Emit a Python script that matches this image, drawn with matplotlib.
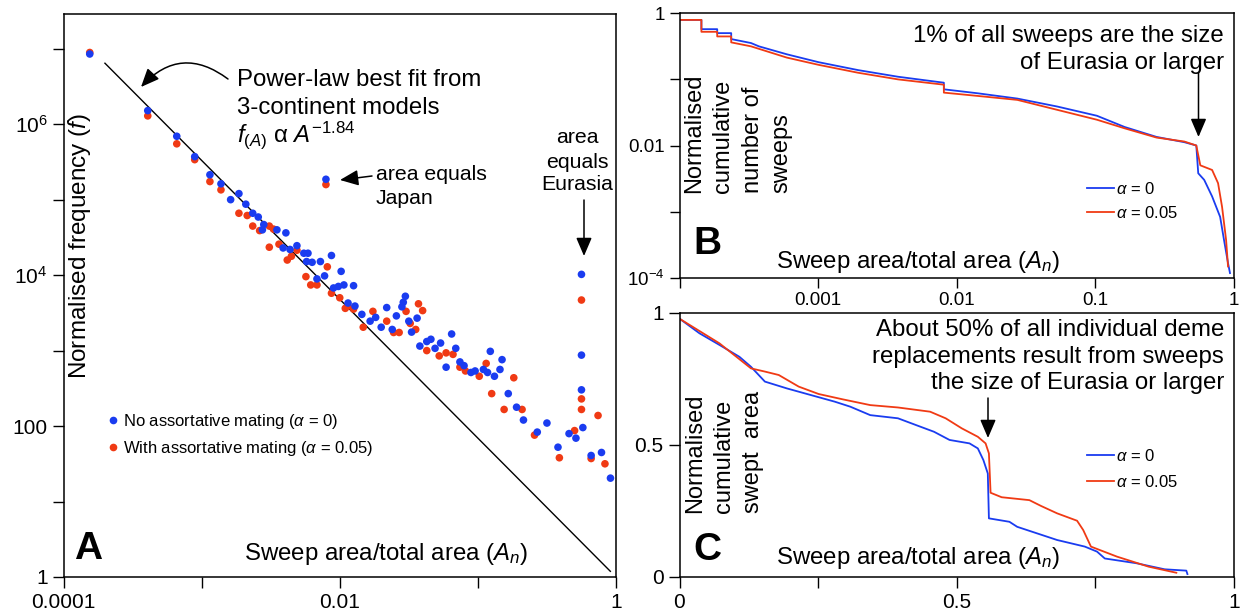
import numpy as np
import matplotlib
matplotlib.use('Agg')
import matplotlib.pyplot as plt
from matplotlib.lines import Line2D
from matplotlib.patches import FancyArrowPatch

plt.rcParams['font.family'] = ['Liberation Sans', 'DejaVu Sans']
plt.rcParams['mathtext.fontset'] = 'custom'
plt.rcParams['mathtext.rm'] = 'Liberation Sans'
plt.rcParams['mathtext.it'] = 'Liberation Sans:italic'
plt.rcParams['mathtext.bf'] = 'Liberation Sans:bold'

# ---------------- data ----------------
# Panel A: log10 of sweep area fraction and log10 of normalised frequency
blue_area_exp = [-3.81, -3.39, -3.18, -3.05, -2.94, -2.86, -2.73, -2.79, -2.68, -2.63,
                 -2.59, -2.55, -2.56, -2.455, -2.39, -2.41, -2.36, -2.31, -2.26, -2.23,
                 -2.24, -2.20, -2.14, -2.06, -2.11, -1.99, -2.165, -2.045, -2.01, -1.97,
                 -1.90, -1.94, -1.89, -2.10, -1.84, -1.78, -1.74, -1.66, -1.70, -1.62,
                 -1.59, -1.55, -1.525, -1.54, -1.50, -1.48, -1.44, -1.42, -1.37, -1.34,
                 -1.31, -1.27, -1.23, -1.19, -1.16, -1.13, -1.10, -1.05, -1.02, -0.96,
                 -0.91, -0.93, -0.88, -0.84, -0.825, -0.78, -0.72, -0.67, -0.57, -0.50,
                 -0.42, -0.34, -0.29, -0.24, -0.25, -0.25, -0.25, -0.18, -0.105, -0.04]
blue_freq_exp = [6.93, 6.18, 5.84, 5.57, 5.33, 5.21, 5.08, 5.00, 4.94, 4.82,
                 4.77, 4.67, 4.60, 4.60, 4.56, 4.36, 4.34, 4.39, 4.29, 4.29,
                 4.18, 4.17, 4.18, 4.26, 3.99, 4.05, 3.95, 3.83, 3.85, 3.87,
                 3.86, 3.63, 3.59, 5.27, 3.48, 3.39, 3.44, 3.57, 3.31, 3.28,
                 3.46, 3.58, 3.72, 3.64, 3.39, 3.245, 3.43, 3.06, 3.12, 3.15,
                 3.03, 3.10, 2.78, 3.22, 3.03, 2.85, 2.80, 2.71, 2.73, 2.75,
                 2.99, 2.71, 2.66, 2.75, 2.88, 2.43, 2.25, 2.08, 1.92, 2.04,
                 1.72, 1.90, 1.84, 1.98, 4.01, 2.94, 2.48, 1.61, 1.65, 1.31]

red_area_exp = [-3.81, -3.39, -3.18, -3.05, -2.94, -2.86, -2.73, -2.67, -2.63, -2.58,
                -2.51, -2.48, -2.51, -2.44, -2.35, -2.38, -2.31, -2.245, -2.21, -2.165,
                -2.09, -2.00, -1.94, -2.10, -2.06, -1.96, -1.90, -1.76, -1.83, -1.66,
                -1.61, -1.57, -1.52, -1.49, -1.45, -1.43, -1.40, -1.37, -1.28, -1.23,
                -1.18, -1.13, -1.09, -0.99, -0.94, -0.90, -0.74, -0.81, -0.68, -0.59,
                -0.41, -0.30, -0.25, -0.25, -0.25, -0.13, -0.18, -0.08]
red_freq_exp = [6.95, 6.11, 5.74, 5.53, 5.24, 5.13, 4.82, 4.79, 4.65, 4.59,
                4.65, 4.61, 4.37, 4.41, 4.25, 4.20, 4.33, 3.98, 3.87, 3.87,
                4.11, 3.70, 3.59, 5.20, 3.76, 3.56, 3.55, 3.52, 3.31, 3.39,
                3.24, 3.24, 3.52, 3.36, 3.28, 3.62, 3.53, 3.00, 2.93, 2.97,
                2.95, 2.78, 2.73, 2.66, 2.83, 2.43, 2.64, 2.22, 2.22, 1.88,
                1.58, 1.94, 3.67, 2.36, 2.22, 2.14, 1.57, 1.50]

fit_exponent = -1.84
fit_area_range = [10 ** -3.70, 0.91]

# Panel B: cumulative number of sweeps (log10 area, log10 cumulative fraction)
b_blue_area_exp = [-4.0, -3.842, -3.842, -3.728, -3.728, -3.627, -3.627, -3.484, -3.427,
                   -3.226, -2.996, -2.710, -2.423, -2.093, -2.093, -1.849, -1.563, -1.276,
                   -0.989, -0.789, -0.559, -0.358, -0.272, -0.258, -0.215, -0.158, -0.100,
                   -0.072, -0.043, -0.029]
b_blue_cum_exp = [-0.10, -0.10, -0.24, -0.24, -0.30, -0.30, -0.39, -0.45, -0.50,
                  -0.62, -0.74, -0.86, -0.96, -1.05, -1.15, -1.21, -1.29, -1.41,
                  -1.55, -1.72, -1.87, -1.95, -2.00, -2.42, -2.52, -2.77, -3.08,
                  -3.43, -3.78, -3.93]
b_red_area_exp = [-4.0, -3.842, -3.842, -3.728, -3.728, -3.627, -3.627, -3.484, -3.226,
                  -2.996, -2.710, -2.423, -2.093, -2.093, -1.849, -1.563, -1.276, -0.989,
                  -0.789, -0.559, -0.358, -0.272, -0.243, -0.158, -0.115, -0.086, -0.057,
                  -0.043]
b_red_cum_exp = [-0.10, -0.10, -0.28, -0.28, -0.35, -0.35, -0.44, -0.50, -0.67,
                 -0.78, -0.90, -1.00, -1.08, -1.20, -1.25, -1.31, -1.46, -1.61,
                 -1.74, -1.88, -1.94, -2.00, -2.30, -2.37, -2.57, -2.93, -3.43,
                 -3.83]

# Panel C: normalised cumulative swept area
c_blue_area = [0.001, 0.036, 0.072, 0.108, 0.129, 0.154, 0.194, 0.237, 0.280, 0.308,
               0.344, 0.394, 0.427, 0.459, 0.487, 0.523, 0.538, 0.548, 0.556, 0.558,
               0.595, 0.609, 0.645, 0.681, 0.731, 0.753, 0.767, 0.824, 0.875, 0.914, 0.916]
c_blue_cum = [0.976, 0.922, 0.878, 0.833, 0.795, 0.739, 0.713, 0.688, 0.663, 0.644,
              0.612, 0.600, 0.574, 0.549, 0.518, 0.505, 0.486, 0.442, 0.391, 0.221,
              0.208, 0.189, 0.164, 0.139, 0.114, 0.095, 0.069, 0.051, 0.028, 0.023, 0.010]
c_red_area = [0.001, 0.072, 0.129, 0.154, 0.179, 0.215, 0.251, 0.294, 0.344, 0.394,
              0.452, 0.480, 0.509, 0.538, 0.552, 0.558, 0.561, 0.581, 0.631, 0.652,
              0.681, 0.717, 0.728, 0.742, 0.789, 0.846, 0.896]
c_red_cum = [0.976, 0.884, 0.789, 0.777, 0.764, 0.720, 0.692, 0.672, 0.650, 0.641,
             0.625, 0.600, 0.562, 0.530, 0.505, 0.467, 0.318, 0.301, 0.290, 0.268,
             0.240, 0.212, 0.177, 0.114, 0.076, 0.038, 0.015]

BLUE = '#1a3cf0'
RED = '#f03a14'

# ---------------- figure ----------------
W, H = 1240, 613
fig = plt.figure(figsize=(W / 100, H / 100), dpi=100)


def fx(px):
    return px / W


def fy(py):
    return 1 - py / H


def add_axes(l, t, r, b):
    return fig.add_axes([fx(l), fy(b), fx(r) - fx(l), fy(t) - fy(b)])


def style(ax, size):
    for s in ax.spines.values():
        s.set_linewidth(1.1)
    ax.tick_params(which='both', direction='out', length=6, width=1.0,
                   labelsize=size, pad=3.5)
    ax.tick_params(which='minor', length=0)


def arrow(x0, y0, x1, y1, rad=0.0):
    fig.add_artist(FancyArrowPatch(
        (fx(x0), fy(y0)), (fx(x1), fy(y1)), transform=fig.transFigure,
        arrowstyle='-|>,head_length=0.7,head_width=0.3', mutation_scale=16,
        connectionstyle=f'arc3,rad={rad}', color='black', lw=1.1,
        shrinkA=0, shrinkB=0))


def txt(x, y, s, size=17.3, ha='left', va='center', **kw):
    fig.text(fx(x), fy(y), s, fontsize=size, ha=ha, va=va, **kw)


# ---------------- Panel A ----------------
axA = add_axes(63.5, 14, 616, 577)
axA.set_xscale('log')
axA.set_yscale('log')
axA.scatter(10 ** np.array(red_area_exp), 10 ** np.array(red_freq_exp),
            s=30, color=RED, edgecolors='none', zorder=3)
axA.scatter(10 ** np.array(blue_area_exp), 10 ** np.array(blue_freq_exp),
            s=30, color=BLUE, edgecolors='none', zorder=3)
fit_a = np.array(fit_area_range)
axA.plot(fit_a, fit_a ** fit_exponent, color='black', lw=1.0, zorder=2)
axA.set_xlim(1e-4, 1)
axA.set_ylim(1, 10 ** 7.46)
axA.set_xticks([1e-4, 1e-3, 1e-2, 1e-1, 1])
axA.set_xticklabels(['0.0001', '', '0.01', '', '1'])
axA.set_yticks([1, 10, 100, 1e3, 1e4, 1e5, 1e6, 1e7])
axA.set_yticklabels(['1', '', '100', '', r'$10^{4}$', '', r'$10^{6}$', ''])
style(axA, 15)
axA.tick_params(axis='both', which='major', length=8)

axA.legend(handles=[
    Line2D([], [], ls='', marker='o', ms=5.5, color=BLUE, mec='none',
           label=r'No assortative mating ($\alpha$ = 0)'),
    Line2D([], [], ls='', marker='o', ms=5.5, color=RED, mec='none',
           label=r'With assortative mating ($\alpha$ = 0.05)')],
    loc='upper left', bbox_to_anchor=(fx(108), fy(412)),
    bbox_transform=fig.transFigure, frameon=False, fontsize=12,
    handlelength=0.6, handletextpad=0.3, borderpad=0, borderaxespad=0,
    labelspacing=0.45)

txt(80, 246, 'Normalised frequency ($f$)', size=17.5, rotation=90, ha='center')
txt(386, 554, 'Sweep area/total area ($A_n$)', ha='center')
txt(74, 549, 'A', size=28, weight='bold')

txt(237, 86, 'Power-law best fit from', va='baseline')
txt(237, 114, '3-continent models', va='baseline')
txt(237, 142, r'$f_{(A)}$ α $A^{-1.84}$', va='baseline')
arrow(228, 79, 141, 87, rad=0.45)

txt(376, 174, 'area equals', size=15.3)
txt(376, 198, 'Japan', size=15.3)
arrow(372, 176, 340, 180)

txt(577, 138, 'area', size=15.3, ha='center')
txt(577, 162, 'equals', size=15.3, ha='center')
txt(577, 185, 'Eurasia', size=15.3, ha='center')
arrow(584, 200, 584, 256)

# ---------------- Panel B ----------------
axB = add_axes(679.5, 13.3, 1234, 277.7)
axB.set_xscale('log')
axB.set_yscale('log')
axB.plot(10 ** np.array(b_blue_area_exp), 10 ** np.array(b_blue_cum_exp),
         color=BLUE, lw=1.3, label=r'$\alpha$ = 0')
axB.plot(10 ** np.array(b_red_area_exp), 10 ** np.array(b_red_cum_exp),
         color=RED, lw=1.3, label=r'$\alpha$ = 0.05')
axB.set_xlim(1e-4, 1)
axB.set_ylim(1e-4, 1)
axB.set_xticks([1e-4, 1e-3, 1e-2, 1e-1, 1])
axB.set_xticklabels(['', '0.001', '0.01', '0.1', '1'])
axB.set_yticks([1e-4, 1e-3, 1e-2, 1e-1, 1])
axB.set_yticklabels([r'$10^{-4}$', '', '0.01', '', '1'])
style(axB, 13.5)
axB.tick_params(axis='both', which='major', length=7)
axB.legend(loc='upper left', bbox_to_anchor=(fx(1087), fy(181)),
           bbox_transform=fig.transFigure, frameon=False, fontsize=12,
           handlelength=1.6, handletextpad=0.15, borderpad=0, borderaxespad=0,
           labelspacing=0.5)

txt(738, 193, 'Normalised\ncumulative\nnumber of\nsweeps', size=17, rotation=90,
    va='bottom', ha='center', multialignment='left', linespacing=1.42)
txt(918, 262, 'Sweep area/total area ($A_n$)', ha='center')
txt(693, 244, 'B', size=28, weight='bold')
txt(1224, 36, '1% of all sweeps are the size', ha='right')
txt(1224, 63, 'of Eurasia or larger', ha='right')
arrow(1198.5, 73, 1198.5, 137)

# ---------------- Panel C ----------------
axC = add_axes(679.5, 312.7, 1234, 576.7)
axC.plot(c_blue_area, c_blue_cum, color=BLUE, lw=1.3, label=r'$\alpha$ = 0')
axC.plot(c_red_area, c_red_cum, color=RED, lw=1.3, label=r'$\alpha$ = 0.05')
axC.set_xlim(0, 1)
axC.set_ylim(0, 1)
axC.set_xticks([0, 0.25, 0.5, 0.75, 1])
axC.set_xticklabels(['0', '', '0.5', '', '1'])
axC.set_yticks([0, 0.5, 1])
axC.set_yticklabels(['0', '0.5', '1'])
style(axC, 15)
axC.tick_params(axis='both', which='major', length=8)
axC.legend(loc='upper left', bbox_to_anchor=(fx(1087), fy(448)),
           bbox_transform=fig.transFigure, frameon=False, fontsize=12,
           handlelength=1.6, handletextpad=0.15, borderpad=0, borderaxespad=0,
           labelspacing=0.6)

txt(724, 513, 'Normalised\ncumulative\nswept  area', size=17, rotation=90,
    va='bottom', ha='center', multialignment='left', linespacing=1.42)
txt(918, 558, 'Sweep area/total area ($A_n$)', ha='center')
txt(693, 550, 'C', size=28, weight='bold')
txt(1224, 330, 'About 50% of all individual deme', ha='right')
txt(1224, 357, 'replacements result from sweeps', ha='right')
txt(1224, 383, 'the size of Eurasia or larger', ha='right')
arrow(988, 398, 988, 438)

fig.savefig('out.png', dpi=100)
